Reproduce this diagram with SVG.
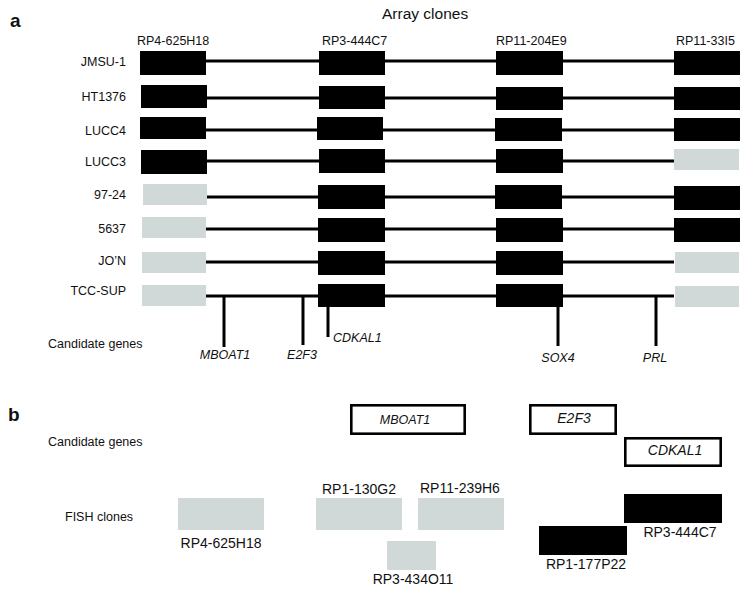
<svg xmlns="http://www.w3.org/2000/svg" width="754" height="591" viewBox="0 0 754 591">
<style>
text{font-family:"Liberation Sans",Arial,sans-serif;fill:#111}
.lbl{font-size:12.5px}
.row{font-size:12.5px;text-anchor:end}
.hdr{font-size:12.5px}
.it{font-style:italic}
.big{font-size:14px}
.pl{font-size:19px;font-weight:bold}
.b{fill:#000}
.g{fill:#d1d8d8}
.ln{stroke:#000;stroke-width:3;fill:none}
.ob{fill:#fff;stroke:#000;stroke-width:2.6}
</style>
<rect width="754" height="591" fill="#fff"/>
<text class="pl" x="10" y="27">a</text>
<text x="382" y="19" style="font-size:15.5px">Array clones</text>
<g id="headers">
<text class="hdr" x="137" y="45">RP4-625H18</text>
<text class="hdr" x="322" y="45">RP3-444C7</text>
<text class="hdr" x="496" y="45">RP11-204E9</text>
<text class="hdr" x="676" y="45">RP11-33I5</text>
</g>
<g id="connectors">
<line class="ln" x1="206" y1="61" x2="674" y2="61"/>
<line class="ln" x1="206" y1="98" x2="674" y2="98"/>
<line class="ln" x1="206" y1="130" x2="674" y2="130"/>
<line class="ln" x1="206" y1="161" x2="674" y2="161"/>
<line class="ln" x1="206" y1="197" x2="674" y2="197"/>
<line class="ln" x1="206" y1="229" x2="674" y2="229"/>
<line class="ln" x1="206" y1="262" x2="674" y2="262"/>
<line class="ln" x1="206" y1="296" x2="674" y2="296"/>
<line class="ln" x1="224" y1="296" x2="224" y2="347"/>
<line class="ln" x1="303" y1="296" x2="303" y2="345"/>
<line class="ln" x1="328" y1="306" x2="328" y2="337"/>
<line class="ln" x1="558" y1="306" x2="558" y2="346"/>
<line class="ln" x1="656" y1="296" x2="656" y2="346"/>
</g>
<g id="row-JMSU-1">
<text class="row" x="126" y="66">JMSU-1</text>
<rect class="b" x="140" y="51" width="66" height="24"/>
<rect class="b" x="319" y="51" width="66" height="24"/>
<rect class="b" x="496" y="51" width="67" height="24"/>
<rect class="b" x="674" y="51" width="66" height="24"/>
</g>
<g id="row-HT1376">
<text class="row" x="126" y="101">HT1376</text>
<rect class="b" x="141" y="85" width="66" height="23"/>
<rect class="b" x="319" y="86" width="66" height="23"/>
<rect class="b" x="496" y="87" width="67" height="23"/>
<rect class="b" x="674" y="87" width="66" height="23"/>
</g>
<g id="row-LUCC4">
<text class="row" x="126" y="135">LUCC4</text>
<rect class="b" x="140" y="117" width="66" height="22"/>
<rect class="b" x="317" y="117" width="66" height="23"/>
<rect class="b" x="495" y="118" width="67" height="23"/>
<rect class="b" x="674" y="118" width="66" height="23"/>
</g>
<g id="row-LUCC3">
<text class="row" x="126" y="166">LUCC3</text>
<rect class="b" x="141" y="150" width="66" height="24"/>
<rect class="b" x="319" y="149" width="66" height="24"/>
<rect class="b" x="496" y="149" width="67" height="24"/>
<rect class="g" x="674" y="149" width="65" height="21"/>
</g>
<g id="row-97-24">
<text class="row" x="126" y="199">97-24</text>
<rect class="g" x="143" y="184" width="64" height="21"/>
<rect class="b" x="318" y="185" width="67" height="24"/>
<rect class="b" x="495" y="185" width="67" height="24"/>
<rect class="b" x="674" y="186" width="66" height="24"/>
</g>
<g id="row-5637">
<text class="row" x="126" y="233">5637</text>
<rect class="g" x="142" y="217" width="64" height="21"/>
<rect class="b" x="318" y="218" width="67" height="24"/>
<rect class="b" x="496" y="218" width="67" height="24"/>
<rect class="b" x="674" y="218" width="66" height="24"/>
</g>
<g id="row-JON">
<text class="row" x="126" y="265">JO’N</text>
<rect class="g" x="142" y="252" width="64" height="21"/>
<rect class="b" x="318" y="251" width="67" height="24"/>
<rect class="b" x="496" y="251" width="67" height="24"/>
<rect class="g" x="675" y="252" width="64" height="21"/>
</g>
<g id="row-TCC-SUP">
<text class="row" x="126" y="295">TCC-SUP</text>
<rect class="g" x="142" y="285" width="64" height="21"/>
<rect class="b" x="318" y="284" width="67" height="23"/>
<rect class="b" x="496" y="284" width="67" height="23"/>
<rect class="g" x="675" y="286" width="64" height="21"/>
</g>
<g id="candidate-genes-a">
<text class="lbl" x="48" y="348">Candidate genes</text>
<text class="lbl it" x="225" y="359" text-anchor="middle">MBOAT1</text>
<text class="lbl it" x="302" y="359" text-anchor="middle">E2F3</text>
<text class="lbl it" x="333" y="342">CDKAL1</text>
<text class="lbl it" x="558" y="362" text-anchor="middle">SOX4</text>
<text class="lbl it" x="655" y="362" text-anchor="middle">PRL</text>
</g>
<text class="pl" x="8" y="421">b</text>
<text class="lbl" x="48" y="446">Candidate genes</text>
<text class="lbl" x="65" y="521">FISH clones</text>
<g id="gene-MBOAT1">
<rect class="ob" x="351.3" y="405.3" width="113.4" height="28.4"/>
<text class="lbl it" x="405" y="424" text-anchor="middle">MBOAT1</text>
</g>
<g id="gene-E2F3">
<rect class="ob" x="530.3" y="405.3" width="85.4" height="28.4"/>
<text class="big it" x="574" y="423" text-anchor="middle">E2F3</text>
</g>
<g id="gene-CDKAL1">
<rect class="ob" x="625.3" y="438.3" width="95.4" height="27.4"/>
<text class="big it" x="675" y="455" text-anchor="middle">CDKAL1</text>
</g>
<g id="fish-RP4-625H18">
<rect class="g" x="178" y="498" width="86" height="32"/>
<text class="big" x="221" y="548" text-anchor="middle">RP4-625H18</text>
</g>
<g id="fish-RP1-130G2">
<rect class="g" x="316" y="498" width="86" height="32"/>
<text class="big" x="322" y="494">RP1-130G2</text>
</g>
<g id="fish-RP11-239H6">
<rect class="g" x="418" y="498" width="86" height="32"/>
<text class="big" x="420" y="493">RP11-239H6</text>
</g>
<g id="fish-RP3-434O11">
<rect class="g" x="387" y="541" width="49" height="29"/>
<text class="big" x="413" y="584" text-anchor="middle">RP3-434O11</text>
</g>
<g id="fish-RP1-177P22">
<rect class="b" x="539" y="526" width="88" height="29"/>
<text class="big" x="586" y="569" text-anchor="middle">RP1-177P22</text>
</g>
<g id="fish-RP3-444C7">
<rect class="b" x="624" y="494" width="98" height="29"/>
<text class="big" x="680" y="537" text-anchor="middle">RP3-444C7</text>
</g>
</svg>
